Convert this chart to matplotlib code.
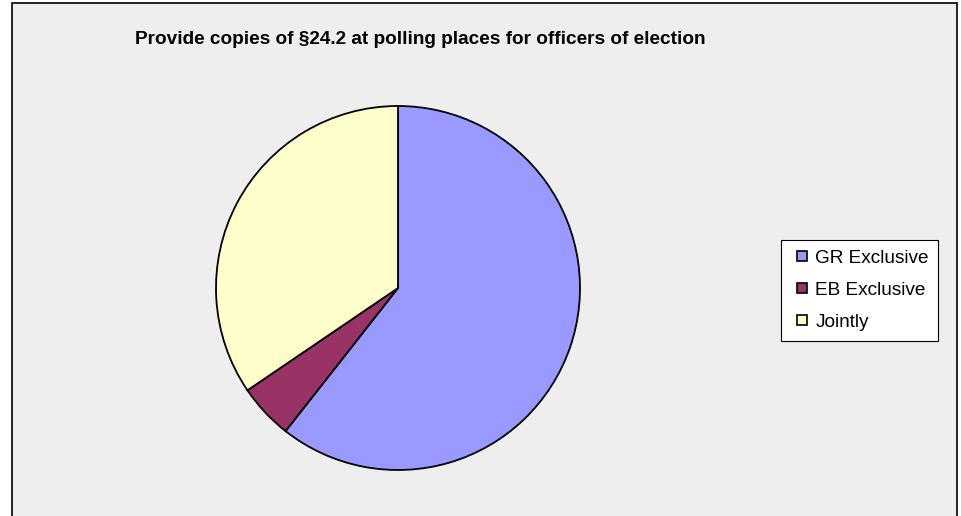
import matplotlib.pyplot as plt
from matplotlib.patches import Rectangle
from matplotlib.lines import Line2D

plt.rcParams["font.family"] = ["Liberation Sans", "DejaVu Sans"]

etiquetas = ["GR Exclusive", "EB Exclusive", "Jointly"]
valores = [60.6, 4.9, 34.5]
colores = ["#9999FF", "#993366", "#FFFFCC"]
titulo = "Provide copies of §24.2 at polling places for officers of election"

W, H = 962, 516
fig = plt.figure(figsize=(W / 100, H / 100), dpi=100)
fig.patch.set_facecolor("white")

# marco gris del grafico (se sale por abajo)
marco = Rectangle((12 / W, -0.05), (957 - 12) / W, (H - 3) / H + 0.05,
                  transform=fig.transFigure, facecolor="#EEEEEE",
                  edgecolor="black", linewidth=1.2, zorder=-5)
fig.patches.append(marco)

fig.text(420 / W, 1 - 39 / H, titulo, ha="center", va="center",
         fontsize=13.7, fontweight="bold")

# pie: centro ~ (398, 288), radio ~182 px
r = 182
ax = fig.add_axes([(398 - r) / W, (H - 288 - r) / H, 2 * r / W, 2 * r / H])
ax.pie(valores, colors=colores, startangle=90, counterclock=False,
       wedgeprops=dict(edgecolor="black", linewidth=1.3), radius=1)
ax.set_xlim(-1, 1)
ax.set_ylim(-1, 1)
ax.set_aspect("equal")
ax.axis("off")

handles = [Line2D([], [], linestyle="none", marker="s", markersize=6.5,
                  markerfacecolor=c, markeredgecolor="black", markeredgewidth=1.2)
           for c in colores]
leg = fig.legend(handles, etiquetas, loc="upper left",
                 bbox_to_anchor=(781 / W, 1 - 240 / H),
                 frameon=True, fancybox=False, fontsize=13.7, framealpha=1,
                 handlelength=1.25, handletextpad=0.05,
                 labelspacing=0.78, borderpad=0.5, borderaxespad=0)
leg.get_frame().set_edgecolor("black")
leg.get_frame().set_linewidth(0.8)
leg.get_frame().set_facecolor("white")

fig.savefig("out.png", dpi=100)
